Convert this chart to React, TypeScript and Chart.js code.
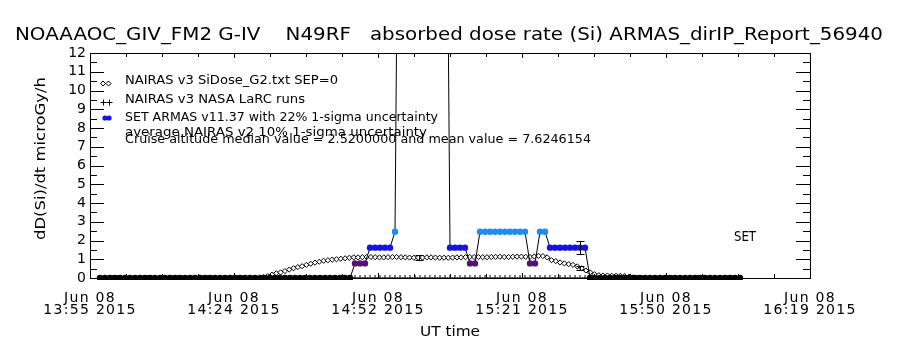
import React, { useEffect, useRef } from 'react';
import { Chart, registerables } from 'chart.js';

Chart.register(...registerables);

// ---------- data ----------
// x values are minutes after 13:55 UT on Jun 08 2015
const xTickMinutes = [0, 28.8, 57.6, 86.4, 115.2, 144];
const xTickDates = ['Jun 08', 'Jun 08', 'Jun 08', 'Jun 08', 'Jun 08', 'Jun 08'];
const xTickTimes = ['13:55 2015', '14:24 2015', '14:52 2015', '15:21 2015', '15:50 2015', '16:19 2015'];
const xMinorStep = 7.2;
const yMin = 0;
const yMax = 12;

// ARMAS SET dose rate, one value per minute starting at armasStartMin
const armasStartMin = 2;
const armasValues = [
  0, 0, 0, 0, 0, 0, 0, 0, 0, 0, 0, 0, 0, 0, 0, 0, 0, 0, 0, 0, 0, 0, 0, 0, 0, 0,
  0, 0, 0, 0, 0, 0, 0, 0, 0, 0, 0, 0, 0, 0, 0, 0, 0, 0, 0, 0, 0, 0, 0, 0, 0,
  0.78, 0.78, 0.78,
  1.62, 1.62, 1.62, 1.62, 1.62,
  2.47,
  35, 80, 120, 150, 110, 90, 70, 55, 45, 35,
  1.62, 1.62, 1.62, 1.62,
  0.78, 0.78,
  2.47, 2.47, 2.47, 2.47, 2.47, 2.47, 2.47, 2.47, 2.47, 2.47,
  0.78, 0.78,
  2.47, 2.47,
  1.62, 1.62, 1.62, 1.62, 1.62, 1.62, 1.62, 1.62,
  0, 0, 0, 0, 0, 0, 0, 0, 0, 0, 0, 0, 0, 0, 0, 0, 0, 0, 0, 0, 0, 0, 0, 0, 0, 0,
  0, 0, 0, 0, 0,
];

// NAIRAS v3 SiDose_G2 model
const nairasStartMin = 2;
const nairasStepMin = 0.86;
const nairasValues = [
  0, 0, 0, 0, 0, 0, 0, 0, 0, 0, 0, 0, 0, 0, 0, 0, 0, 0, 0, 0, 0, 0, 0, 0, 0, 0,
  0, 0, 0, 0, 0, 0, 0, 0, 0, 0, 0, 0,
  0.05, 0.1, 0.18, 0.25, 0.3, 0.37, 0.45, 0.52, 0.58, 0.63, 0.7, 0.76, 0.82, 0.87,
  0.92, 0.95, 0.98, 1.0, 1.03, 1.05, 1.08, 1.1,
  1.1, 1.11, 1.12, 1.12, 1.11, 1.1, 1.1, 1.11, 1.12, 1.12, 1.11,
  1.1, 1.09, 1.08, 1.08, 1.09, 1.1, 1.1, 1.09, 1.08, 1.08,
  1.08, 1.09, 1.1, 1.1, 1.11, 1.12, 1.12, 1.12, 1.11, 1.11,
  1.12, 1.13, 1.13, 1.12, 1.12, 1.13, 1.14, 1.14, 1.13, 1.12,
  1.15, 1.18, 1.17,
  1.1, 0.95, 0.9, 0.83, 0.78, 0.74, 0.7, 0.62, 0.52, 0.4, 0.3, 0.2, 0.15,
  0.13, 0.13, 0.12, 0.12, 0.12, 0.1,
  0.07, 0.03,
  0, 0, 0, 0, 0, 0, 0, 0, 0, 0, 0, 0, 0, 0, 0, 0, 0, 0, 0, 0, 0, 0, 0, 0,
];

// NAIRAS v3 NASA LaRC runs (one per minute)
const larcStartMin = 2;
const larcValues = [
  0, 0, 0, 0, 0, 0, 0, 0, 0, 0, 0, 0, 0, 0, 0, 0, 0, 0, 0, 0, 0, 0, 0, 0, 0, 0,
  0, 0, 0, 0, 0, 0, 0, 0, 0, 0, 0, 0, 0, 0, 0, 0, 0, 0, 0, 0, 0, 0, 0, 0, 0, 0,
  0, 0, 0, 0, 0, 0, 0, 0, 0, 0, 0, 0, 0, 0, 0, 0, 0, 0, 0, 0, 0, 0, 0, 0, 0, 0,
  0, 0, 0, 0, 0, 0, 0, 0, 0, 0, 0, 0, 0, 0, 0, 0, 0, 0, 0, 0, 0, 0, 0, 0, 0, 0,
  0, 0, 0, 0, 0, 0, 0, 0, 0, 0, 0, 0, 0, 0, 0, 0, 0, 0, 0, 0, 0, 0, 0, 0, 0,
];

// averages with 1-sigma uncertainty
const errMinutes = [65.8, 97.9, 97.9];
const errCenters = [1.08, 0.53, 1.63];
const errHalf = [0.13, 0.12, 0.36];

const titleText = 'NOAAAOC_GIV_FM2 G-IV    N49RF   absorbed dose rate (Si) ARMAS_dirIP_Report_56940';
const yTitle = 'dD(Si)/dt microGy/h';
const xTitle = 'UT time';
const legendLines = [
  'NAIRAS v3 SiDose_G2.txt SEP=0',
  'NAIRAS v3 NASA LaRC runs',
  'SET ARMAS v11.37 with 22% 1-sigma uncertainty',
  'average NAIRAS v2 10% 1-sigma uncertainty',
  'Cruise altitude median value = 2.5200000 and mean value = 7.6246154',
];
const sideLabel = 'SET';

const PURPLE = '#561078';
const BLUE = '#1414e6';
const LIGHT = '#1e8cf5';
const FONT = '"DejaVu Sans", sans-serif';
const WEIGHT = 'normal';

function levelColor(v: number): string {
  if (v < 0.4) return '#000000';
  if (v < 1.2) return PURPLE;
  if (v < 2.0) return BLUE;
  return LIGHT;
}

function fitText(
  ctx: CanvasRenderingContext2D,
  text: string,
  x: number,
  y: number,
  size: number,
  width: number,
  align: CanvasTextAlign = 'left',
  rotate = 0
) {
  ctx.save();
  ctx.font = `${WEIGHT} ${size}px ${FONT}`;
  const w = ctx.measureText(text).width;
  ctx.translate(x, y);
  if (rotate) ctx.rotate(rotate);
  ctx.scale(width / w, 1);
  ctx.textAlign = align;
  ctx.textBaseline = 'middle';
  ctx.fillStyle = '#000';
  ctx.fillText(text, 0, 0);
  ctx.restore();
}

const idlPlugin = {
  id: 'idlDecor',
  afterDatasetsDraw(chart: any) {
    (chart.ctx as any).letterSpacing = '1.3px';
  },
  afterDraw(chart: any) {
    const ctx: CanvasRenderingContext2D = chart.ctx;
    (ctx as any).letterSpacing = '0px';
    const { left, right, top, bottom } = chart.chartArea;
    const xs = chart.scales.x;
    const ys = chart.scales.y;

    ctx.save();
    ctx.strokeStyle = '#000';
    ctx.lineWidth = 1;
    // frame
    ctx.strokeRect(Math.round(left) + 0.5, Math.round(top) + 0.5, Math.round(right - left), Math.round(bottom - top));

    // x ticks (inward, bottom and top)
    ctx.beginPath();
    for (let m = xTickMinutes[0]; m <= xTickMinutes[xTickMinutes.length - 1] + 0.01; m += xMinorStep) {
      const px = Math.round(xs.getPixelForValue(m)) + 0.5;
      const isMajor = xTickMinutes.some((t) => Math.abs(t - m) < 0.01);
      const len = isMajor ? 5 : 4;
      ctx.moveTo(px, bottom);
      ctx.lineTo(px, bottom - len);
      ctx.moveTo(px, top);
      ctx.lineTo(px, top + len);
    }
    // y ticks (inward, left and right)
    for (let v = yMin; v <= yMax + 0.01; v += 0.5) {
      const py = Math.round(ys.getPixelForValue(v)) + 0.5;
      const len = Number.isInteger(v) ? 14 : 7;
      ctx.moveTo(left, py);
      ctx.lineTo(left + len, py);
      ctx.moveTo(right, py);
      ctx.lineTo(right - len, py);
    }
    ctx.stroke();

    // error bars
    ctx.beginPath();
    for (let i = 0; i < errMinutes.length; i++) {
      const px = Math.round(xs.getPixelForValue(errMinutes[i])) + 0.5;
      const pHi = Math.round(ys.getPixelForValue(errCenters[i] + errHalf[i])) + 0.5;
      const pLo = Math.round(ys.getPixelForValue(errCenters[i] - errHalf[i])) + 0.5;
      ctx.moveTo(px, pHi);
      ctx.lineTo(px, pLo);
      ctx.moveTo(px - 4, pHi);
      ctx.lineTo(px + 4, pHi);
      ctx.moveTo(px - 4, pLo);
      ctx.lineTo(px + 4, pLo);
    }
    ctx.stroke();

    // legend symbols
    const diamond = (cx: number, cy: number, r: number) => {
      ctx.beginPath();
      ctx.moveTo(cx, cy - r);
      ctx.lineTo(cx + r, cy);
      ctx.lineTo(cx, cy + r);
      ctx.lineTo(cx - r, cy);
      ctx.closePath();
      ctx.fillStyle = '#fff';
      ctx.fill();
      ctx.stroke();
    };
    diamond(103, 83.5, 2.5);
    diamond(108.5, 83.5, 2.5);
    ctx.beginPath();
    for (const cx of [103.5, 109.5]) {
      ctx.moveTo(cx - 3, 102.5);
      ctx.lineTo(cx + 3, 102.5);
      ctx.moveTo(cx, 99.5);
      ctx.lineTo(cx, 105.5);
    }
    ctx.stroke();
    ctx.fillStyle = BLUE;
    for (const cx of [105, 109]) {
      ctx.beginPath();
      ctx.arc(cx, 118, 2.6, 0, Math.PI * 2);
      ctx.fill();
    }
    ctx.restore();

    // texts
    fitText(ctx, titleText, 15, 35, 18, 868, 'left');
    fitText(ctx, yTitle, 41, 158.5, 14, 163, 'center', -Math.PI / 2);
    fitText(ctx, xTitle, 450, 332, 14, 60, 'center');
    const legendY = [81, 100, 118, 133, 140];
    const legendW = [213, 180, 313, 302, 466];
    for (let i = 0; i < legendLines.length; i++) {
      fitText(ctx, legendLines[i], 125, legendY[i], 12, legendW[i], 'left');
    }
    fitText(ctx, sideLabel, 745, 237, 14, 22, 'center');
  },
};

export default function App() {
  const canvasRef = useRef<HTMLCanvasElement | null>(null);

  useEffect(() => {
    if (!canvasRef.current) return;
    const armasData = armasValues.map((v, i) => ({ x: armasStartMin + i, y: v }));
    const nairasData = nairasValues.map((v, i) => ({ x: nairasStartMin + i * nairasStepMin, y: v }));
    const larcData = larcValues.map((v, i) => ({ x: larcStartMin + i, y: v }));

    const chart = new Chart(canvasRef.current, {
      type: 'line',
      data: {
        datasets: [
          {
            label: 'SET ARMAS',
            data: armasData,
            borderColor: '#000',
            borderWidth: 1,
            pointRadius: 3.2,
            pointBorderWidth: 0,
            pointBackgroundColor: (c: any) => levelColor(c.raw ? c.raw.y : 0),
            pointBorderColor: (c: any) => levelColor(c.raw ? c.raw.y : 0),
            tension: 0,
            clip: { left: 5, right: 5, top: 0, bottom: 2 } as any,
          },
          {
            label: 'NAIRAS v3 SiDose_G2',
            data: nairasData,
            borderColor: '#000',
            borderWidth: 1,
            pointStyle: 'rectRot',
            pointRadius: 2.6,
            pointBackgroundColor: '#fff',
            pointBorderColor: '#000',
            pointBorderWidth: 1,
            tension: 0,
          },
          {
            label: 'NAIRAS v3 NASA LaRC runs',
            data: larcData,
            showLine: false,
            pointStyle: 'cross',
            pointRadius: 3,
            pointBorderColor: '#000',
            pointBorderWidth: 1,
          },
        ],
      },
      options: {
        responsive: false,
        animation: false,
        events: [],
        layout: { padding: { top: 53, right: 90, left: 0, bottom: 0 } },
        plugins: {
          legend: { display: false },
          tooltip: { enabled: false },
          title: { display: false },
        },
        scales: {
          x: {
            type: 'linear',
            min: xTickMinutes[0],
            max: xTickMinutes[xTickMinutes.length - 1],
            afterBuildTicks: (s: any) => {
              s.ticks = xTickMinutes.map((v) => ({ value: v }));
            },
            afterFit: (s: any) => {
              s.height = 72;
            },
            grid: { display: false, drawTicks: false },
            border: { display: false },
            ticks: {
              autoSkip: false,
              maxRotation: 0,
              minRotation: 0,
              padding: 14,
              color: '#000',
              z: 1,
              font: { family: FONT, size: 14, weight: WEIGHT, lineHeight: 0.86 },
              callback: (_v: any, i: number) => [xTickDates[i], xTickTimes[i]],
            },
          },
          y: {
            type: 'linear',
            min: yMin,
            max: yMax,
            afterFit: (s: any) => {
              s.width = 90;
            },
            grid: { display: false, drawTicks: false },
            border: { display: false },
            ticks: {
              stepSize: 1,
              autoSkip: false,
              padding: 4,
              color: '#000',
              font: { family: FONT, size: 14, weight: WEIGHT },
            },
          },
        },
      },
      plugins: [idlPlugin],
    } as any);

    return () => chart.destroy();
  }, []);

  return (
    <div style={{ position: 'fixed', left: 0, top: 0, width: 900, height: 350, background: '#fff' }}>
      <canvas ref={canvasRef} width={900} height={350} style={{ display: 'block' }} />
    </div>
  );
}
